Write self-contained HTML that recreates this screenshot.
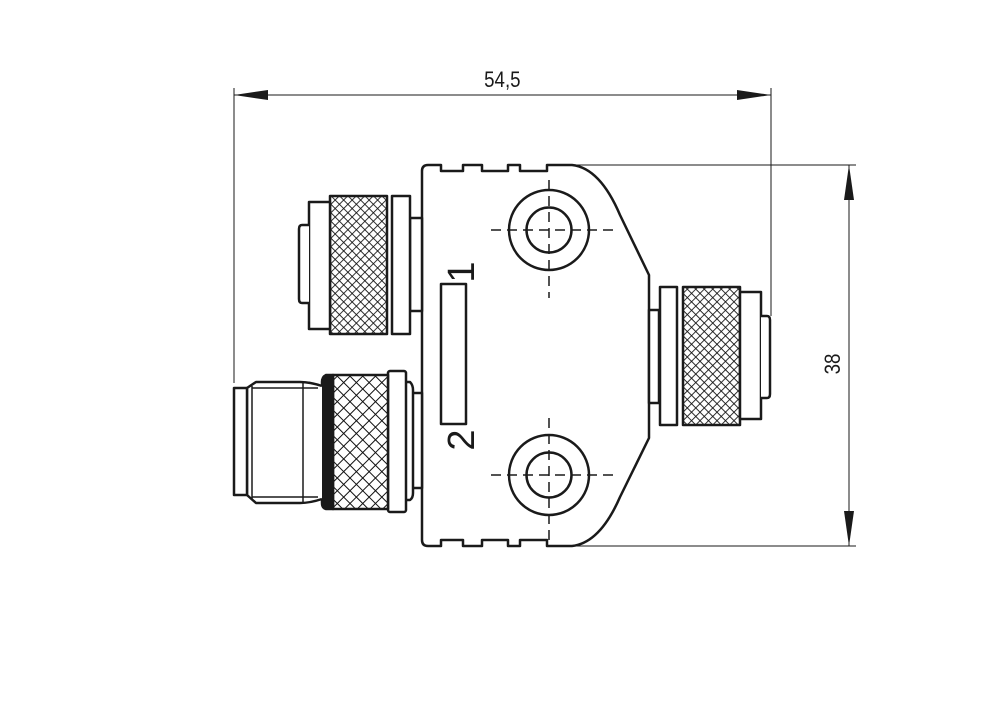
<!DOCTYPE html>
<html><head><meta charset="utf-8"><style>html,body{margin:0;padding:0;background:#fff}svg{display:block}</style></head><body>
<svg width="1000" height="701" viewBox="0 0 1000 701" xmlns="http://www.w3.org/2000/svg">
<defs>
<pattern id="kn" width="6" height="6" patternUnits="userSpaceOnUse" patternTransform="rotate(45)">
<rect width="6" height="6" fill="#fff"/>
<path d="M0 0H6M0 0V6" stroke="#111" stroke-width="1.7"/>
</pattern>
<pattern id="kn2" width="9" height="9" patternUnits="userSpaceOnUse" patternTransform="rotate(45)">
<rect width="9" height="9" fill="#fff"/>
<path d="M0 0H9M0 0V9" stroke="#111" stroke-width="2"/>
</pattern>
</defs>
<g fill="none" stroke="#1a1a1a" stroke-width="1">
<line x1="234" y1="88" x2="234" y2="383"/>
<line x1="771" y1="88" x2="771" y2="316"/>
<line x1="234" y1="95" x2="771" y2="95"/>
<line x1="572" y1="165" x2="856" y2="165"/>
<line x1="572" y1="546" x2="856" y2="546"/>
<line x1="849" y1="165" x2="849" y2="546"/>
</g>
<g fill="#1a1a1a">
<polygon points="234,95 268,90 268,100"/>
<polygon points="771,95 737,90 737,100"/>
<polygon points="849,165 844,200 854,200"/>
<polygon points="849,546 844,511 854,511"/>
</g>
<text x="503" y="87" font-family="Liberation Sans, sans-serif" font-size="22" text-anchor="middle" fill="#1a1a1a" transform="scale(0.85,1) translate(88,0)">54,5</text>
<text transform="translate(840,364) rotate(-90) scale(0.85,1)" font-family="Liberation Sans, sans-serif" font-size="22" text-anchor="middle" fill="#1a1a1a">38</text>

<g fill="none" stroke="#1a1a1a" stroke-width="2.5" stroke-linejoin="round">
<path d="M428 165 H441 V171 H463 V165 H482 V171 H508 V165 H520 V171 H547 V165 H572 Q600 168 620 215 L649 275 V438 L620 497 Q600 543 572 546 H547 V540 H520 V546 H508 V540 H482 V546 H463 V540 H441 V546 H428 Q422 546 422 540 V171 Q422 165 428 165 Z" fill="#fff"/>
<rect x="441" y="284" width="25" height="140"/>
<circle cx="549" cy="230" r="40"/><circle cx="549" cy="230" r="22.5"/>
<circle cx="549" cy="475" r="40"/><circle cx="549" cy="475" r="22.5"/>
</g>
<g fill="none" stroke="#1a1a1a" stroke-width="1.5" stroke-dasharray="10,6">
<line x1="491" y1="230" x2="617" y2="230"/>
<line x1="549" y1="180" x2="549" y2="298"/>
<line x1="491" y1="475" x2="617" y2="475"/>
<line x1="549" y1="418" x2="549" y2="546"/>
</g>
<text transform="translate(474,272) rotate(-90)" font-family="Liberation Sans, sans-serif" font-size="38" fill="#1a1a1a" text-anchor="middle">1</text>
<text transform="translate(474,440) rotate(-90)" font-family="Liberation Sans, sans-serif" font-size="38" fill="#1a1a1a" text-anchor="middle">2</text>

<g stroke="#1a1a1a" stroke-width="2.5" stroke-linejoin="round" fill="#fff">
<rect x="649" y="310" width="10" height="93"/>
<rect x="660" y="287" width="17" height="138"/>
<rect x="683" y="287" width="57" height="138" fill="url(#kn)"/>
<rect x="740" y="292" width="21" height="127"/>
<path d="M761 316 H767 Q770 316 770 320 V394 Q770 398 767 398 H761"/>
<rect x="410" y="218" width="12" height="93"/>
<rect x="392" y="196" width="18" height="138"/>
<rect x="330" y="196" width="57" height="138" fill="url(#kn)"/>
<rect x="309" y="202" width="21" height="127"/>
<path d="M309 225 H302 Q299 225 299 229 V299 Q299 303 302 303 H309"/>
<rect x="410" y="393" width="12" height="95"/>
<path d="M406 382 H410 Q413 385 413 390 V493 Q413 498 410 500 H406"/>
<rect x="388" y="371" width="18" height="141" rx="2"/>
<rect x="333" y="375" width="55" height="134" fill="url(#kn2)"/>
<path d="M333 375 H326 Q322 377 322 382 V503 Q322 508 326 509 H333 Z" fill="#1a1a1a"/>
<path d="M322 386 Q310 382 300 382 H256 L247 388 V495 L256 503 H300 Q310 503 322 499"/>
<rect x="234" y="388" width="13" height="107"/>
</g>
<g stroke="#1a1a1a" stroke-width="1.5" fill="none">
<line x1="252" y1="386" x2="252" y2="499"/>
<line x1="303" y1="383" x2="303" y2="502"/>
<line x1="252" y1="388" x2="318" y2="388"/>
<line x1="252" y1="497" x2="318" y2="497"/>
</g>
</svg>
</body></html>
